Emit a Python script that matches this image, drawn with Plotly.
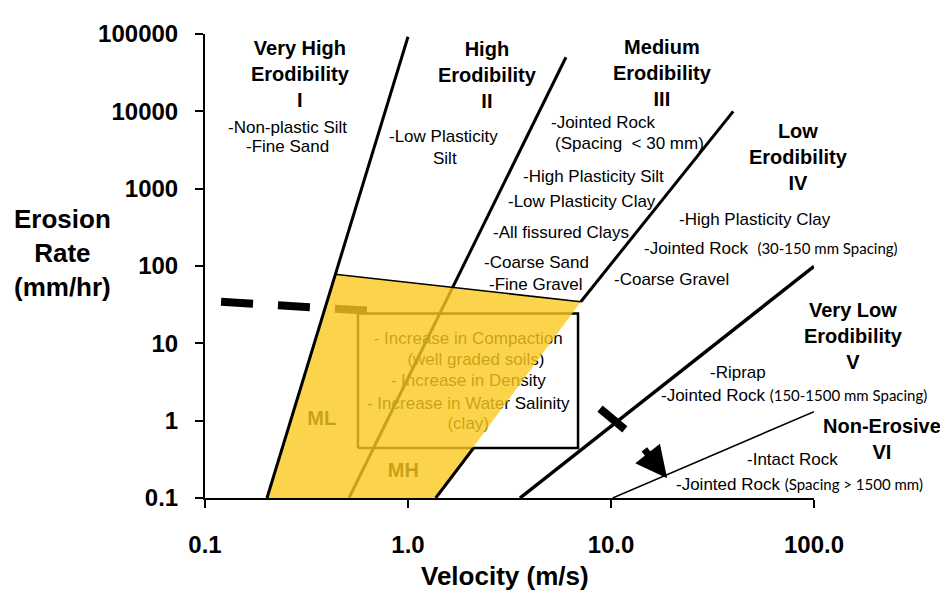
import numpy as np
import plotly.graph_objects as go

# ---------------- data (velocity in m/s, erosion rate in mm/hr) ----------------
# boundary lines between erodibility categories
line_I_II_v = [0.202, 1.0]
line_I_II_e = [0.1, 92000]
line_II_III_v = [0.512, 6.0]
line_II_III_e = [0.1, 50000]
line_III_IV_v = [1.37, 2.1, 7.1, 40]
line_III_IV_e = [0.1, 0.44, 34.5, 10000]
line_IV_V_v = [3.56, 100]
line_IV_V_e = [0.1, 99]
line_V_VI_v = [10.2, 100]
line_V_VI_e = [0.1, 1.31]

# ML / MH zone (yellow)
zone_v = [0.202, 0.437, 7.1, 1.37]
zone_e = [0.1, 78, 34.5, 0.1]

# box of influencing factors
box_v = [0.567, 6.88]
box_e = [0.443, 24.3]

# trend path and arrow
trend_v = [0.12, 0.628]
trend_e = [34.5, 26.5]
trend2_v = [8.83, 11.7]
trend2_e = [1.43, 0.77]
arrow_v = [14.4, 18.9]
arrow_e = [0.444, 0.18]

# tick labels
x_ticks = [0.1, 1, 10, 100]
x_tick_text = ["0.1", "1.0", "10.0", "100.0"]
y_ticks = [0.1, 1, 10, 100, 1000, 10000, 100000]
y_tick_text = ["0.1", "1", "10", "100", "1000", "10000", "100000"]

# box texts
box_lines = ["- Increase in Compaction", "(well graded soils)", "- Increase in Density",
             "- Increase in Water Salinity", "(clay)"]
box_text_v = [1.98, 2.16, 1.98, 1.98, 1.98]
box_text_e = [11.0, 5.98, 3.14, 1.61, 0.895]
soil_labels = ["ML", "MH"]
soil_v = [0.376, 0.948]
soil_e = [1.03, 0.216]

FONT = "Arial, Liberation Sans, sans-serif"
BLACK = "#000000"
YELLOW = "rgba(251,201,31,0.8)"

fig = go.Figure()


def seg(xs, ys, width, dash=None):
    fig.add_trace(go.Scatter(x=xs, y=ys, mode="lines",
                             line=dict(color=BLACK, width=width, dash=dash),
                             hoverinfo="skip", showlegend=False))


# under the yellow zone
seg(line_II_III_v, line_II_III_e, 3)
seg(line_III_IV_v[2:], line_III_IV_e[2:], 3)
seg([box_v[0], box_v[1], box_v[1], box_v[0], box_v[0]],
    [box_e[0], box_e[0], box_e[1], box_e[1], box_e[0]], 2.5)
fig.add_trace(go.Scatter(x=box_text_v, y=box_text_e, mode="text", text=box_lines,
                         textfont=dict(family=FONT, size=17, color=BLACK),
                         textposition="middle center", hoverinfo="skip", showlegend=False))
fig.add_trace(go.Scatter(x=soil_v, y=soil_e, mode="text",
                         text=["<b>%s</b>" % s for s in soil_labels],
                         textfont=dict(family=FONT, size=20, color=BLACK),
                         textposition="middle center", hoverinfo="skip", showlegend=False))
seg(trend_v, trend_e, 8, dash="32px,25px")

# yellow zone
fig.add_trace(go.Scatter(x=zone_v + [zone_v[0]], y=zone_e + [zone_e[0]], mode="none",
                         fill="toself", fillcolor=YELLOW, hoverinfo="skip", showlegend=False))
seg(zone_v[1:3], zone_e[1:3], 1.5)

# above the yellow zone
seg(line_I_II_v, line_I_II_e, 3)
seg(line_III_IV_v[:2], line_III_IV_e[:2], 3)
seg(line_IV_V_v, line_IV_V_e, 3.5)
seg(line_V_VI_v, line_V_VI_e, 1.5)
seg(trend2_v, trend2_e, 8)

# ---------------- annotations ----------------
# plot area in window pixels (the page body adds an 8 px offset)
OFF = 8
X0, X1, Y0, Y1 = 205, 814, 498, 25
W, H = 948 - OFF, 592 - OFF


def P(px, py):
    return (px - X0) / (X1 - X0), (Y0 - py) / (Y0 - Y1)


ann = []


def txt(text, px, py, size=17, anchor="center", bold=False, align="center"):
    x, y = P(px, py)
    ann.append(dict(text=("<b>%s</b>" % text) if bold else text, x=x, y=y,
                    xref="paper", yref="paper", xanchor=anchor, yanchor="middle",
                    showarrow=False, align=align,
                    font=dict(family=FONT, size=size, color=BLACK)))


def small(t):
    return "<span style='font-family:Lato, Noto Sans, sans-serif;font-size:15px'>%s</span>" % t


# headers
txt("Very High<br>Erodibility<br>I", 300, 66, 20, bold=True)
txt("High<br>Erodibility<br>II", 487, 67, 20, bold=True)
txt("Medium<br>Erodibility<br>III", 662, 65, 20, bold=True)
txt("Low<br>Erodibility<br>IV", 798, 150, 20, bold=True)
txt("Very Low<br>Erodibility<br>V", 853, 333, 20, bold=True)
txt("Non-Erosive<br>VI", 882, 438, 20, bold=True)

# material lists
txt("-Non-plastic Silt", 287, 120)
txt("-Fine Sand", 287, 140)
txt("-Low Plasticity", 443, 129)
txt("Silt", 445, 152)
txt("-Jointed Rock", 549, 115, anchor="left")
txt("(Spacing\u00a0\u00a0< 30 mm)", 553, 137, anchor="left")
txt("-High Plasticity Silt", 521, 170, anchor="left")
txt("-Low Plasticity Clay", 506, 196, anchor="left")
txt("-All fissured Clays", 491, 227, anchor="left")
txt("-Coarse Sand", 482, 258, anchor="left")
txt("-Fine Gravel", 487, 280, anchor="left")
txt("-High Plasticity Clay", 677, 214, anchor="left")
txt("-Jointed Rock\u00a0\u00a0" + small("(30-150 mm Spacing)"), 642, 244, anchor="left")
txt("-Coarse Gravel", 612, 275, anchor="left")
txt("-Riprap", 708, 370, anchor="left")
txt("-Jointed Rock\u00a0" + small("(150-1500 mm Spacing)"), 659, 394, anchor="left")
txt("-Intact Rock", 745, 459, anchor="left")
txt("-Jointed Rock\u00a0" + small("(Spacing > 1500 mm)"), 674, 484, anchor="left")

# axis titles
txt("Erosion<br>Rate<br>(mm/hr)", 62, 248, 26, bold=True)
txt("Velocity (m/s)", 505, 578, 26, bold=True)

# arrow
ann.append(dict(x=np.log10(arrow_v[1]), y=np.log10(arrow_e[1]),
                ax=np.log10(arrow_v[0]), ay=np.log10(arrow_e[0]),
                xref="x", yref="y", axref="x", ayref="y", text="",
                showarrow=True, arrowhead=2, arrowsize=0.9, arrowwidth=7, arrowcolor=BLACK))

fig.update_layout(
    width=W, height=H,
    margin=dict(l=X0 - OFF, r=948 - X1, t=Y1 - OFF, b=592 - Y0),
    paper_bgcolor="white", plot_bgcolor="white",
    annotations=ann,
    xaxis=dict(type="log", range=[-1, 2], tickvals=x_ticks,
               ticktext=["<b>%s</b>" % t for t in x_tick_text],
               tickfont=dict(family=FONT, size=24, color=BLACK),
               showline=True, linecolor=BLACK, linewidth=2, ticks="outside",
               ticklen=8, tickwidth=2, tickcolor=BLACK, showgrid=False, zeroline=False,
               ticklabelstandoff=16),
    yaxis=dict(type="log", range=[-1, 5], tickvals=y_ticks,
               ticktext=["<b>%s</b>" % t for t in y_tick_text],
               tickfont=dict(family=FONT, size=24, color=BLACK),
               showline=True, linecolor=BLACK, linewidth=2, ticks="outside",
               ticklen=8, tickwidth=2, tickcolor=BLACK, showgrid=False, zeroline=False,
               ticklabelstandoff=12),
)

fig.write_html("out.html")
